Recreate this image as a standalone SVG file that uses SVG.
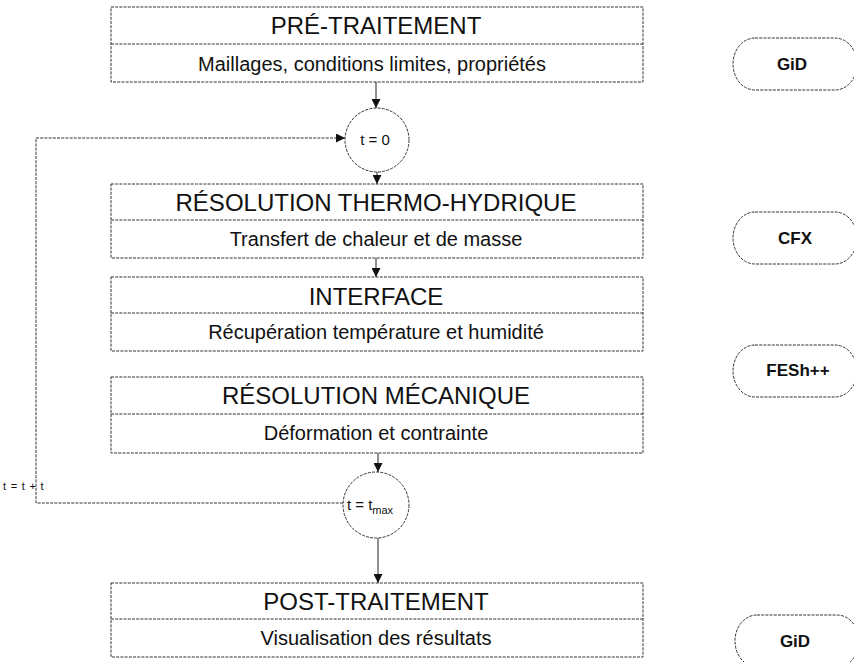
<svg xmlns="http://www.w3.org/2000/svg" width="854" height="662" viewBox="0 0 854 662">
<style>
.box{fill:#fff;stroke:#333;stroke-width:1;stroke-dasharray:3 1.2}
.div{stroke:#333;stroke-width:1;stroke-dasharray:3 1.2}
.ttl{font-family:"Liberation Sans",Arial,sans-serif;font-size:24px;fill:#111;text-anchor:middle;dominant-baseline:central}
.sub{font-family:"Liberation Sans",Arial,sans-serif;font-size:20px;fill:#111;text-anchor:middle;dominant-baseline:central}
.circ{fill:#fff;stroke:#333;stroke-width:1;stroke-dasharray:3 1.2}
.ct{font-family:"Liberation Sans",Arial,sans-serif;font-size:15px;fill:#111;text-anchor:middle}
.pill{fill:#fff;stroke:#333;stroke-width:1;stroke-dasharray:3 1.2}
.pt{font-family:"Liberation Sans",Arial,sans-serif;font-size:17px;font-weight:bold;fill:#111;text-anchor:middle;dominant-baseline:central}
.ln{fill:none;stroke:#222;stroke-width:1}
.lnd{fill:none;stroke:#333;stroke-width:1;stroke-dasharray:3 1.2}
.lbl{font-family:"Liberation Sans",Arial,sans-serif;font-size:11px;letter-spacing:0.8px;fill:#111}
</style>
<defs>
<marker id="ah" viewBox="0 0 10 10" refX="10" refY="5" markerWidth="9" markerHeight="9" markerUnits="userSpaceOnUse" orient="auto">
<path d="M0,0 L10,5 L0,10 z" fill="#111"/>
</marker>
</defs>

<g id="connectors">
<line class="ln" x1="376" y1="82" x2="376" y2="108" marker-end="url(#ah)"/>
<line class="ln" x1="377" y1="172" x2="377" y2="184" marker-end="url(#ah)"/>
<line class="ln" x1="376" y1="258" x2="376" y2="277" marker-end="url(#ah)"/>
<line class="ln" x1="378" y1="453" x2="378" y2="472" marker-end="url(#ah)"/>
<line class="ln" x1="378" y1="538" x2="378" y2="583" marker-end="url(#ah)"/>
<polyline class="lnd" points="343,503 36,503 36,138 345,138" marker-end="url(#ah)"/>
<text class="lbl" x="3" y="490">t = t + t</text>
</g>

<g id="pre">
<rect class="box" x="111" y="7" width="532" height="75"/>
<line class="div" x1="111" y1="44" x2="643" y2="44"/>
<text class="ttl" x="376" y="25">PRÉ-TRAITEMENT</text>
<text class="sub" x="372" y="64">Maillages, conditions limites, propriétés</text>
</g>

<g id="t0">
<circle class="circ" cx="377" cy="140" r="32"/>
<text class="ct" x="375" y="145">t = 0</text>
</g>

<g id="thermo">
<rect class="box" x="111" y="184" width="532" height="74"/>
<line class="div" x1="111" y1="220" x2="643" y2="220"/>
<text class="ttl" x="376" y="202">RÉSOLUTION THERMO-HYDRIQUE</text>
<text class="sub" x="376" y="239">Transfert de chaleur et de masse</text>
</g>

<g id="interface">
<rect class="box" x="111" y="277" width="532" height="74"/>
<line class="div" x1="111" y1="313" x2="643" y2="313"/>
<text class="ttl" x="376" y="296">INTERFACE</text>
<text class="sub" x="376" y="332">Récupération température et humidité</text>
</g>

<g id="meca">
<rect class="box" x="111" y="377" width="532" height="76"/>
<line class="div" x1="111" y1="414" x2="643" y2="414"/>
<text class="ttl" x="376" y="395">RÉSOLUTION MÉCANIQUE</text>
<text class="sub" x="376" y="433">Déformation et contrainte</text>
</g>

<g id="tmax">
<circle class="circ" cx="376" cy="505" r="33"/>
<text class="ct" x="370" y="510">t = t<tspan font-size="11" dy="4">max</tspan></text>
</g>

<g id="post">
<rect class="box" x="111" y="583" width="532" height="74"/>
<line class="div" x1="111" y1="619" x2="643" y2="619"/>
<text class="ttl" x="376" y="601">POST-TRAITEMENT</text>
<text class="sub" x="376" y="638">Visualisation des résultats</text>
</g>

<g id="gid1">
<rect class="pill" x="733" y="38" width="124" height="52" rx="22" ry="26"/>
<text class="pt" x="792" y="64">GiD</text>
</g>
<g id="cfx">
<rect class="pill" x="733" y="212" width="124" height="52" rx="22" ry="26"/>
<text class="pt" x="795" y="238">CFX</text>
</g>
<g id="fesh">
<rect class="pill" x="733" y="345" width="124" height="52" rx="22" ry="26"/>
<text class="pt" x="798" y="370">FESh++</text>
</g>
<g id="gid2">
<rect class="pill" x="735" y="615" width="124" height="52" rx="22" ry="26"/>
<text class="pt" x="795" y="641">GiD</text>
</g>
</svg>
